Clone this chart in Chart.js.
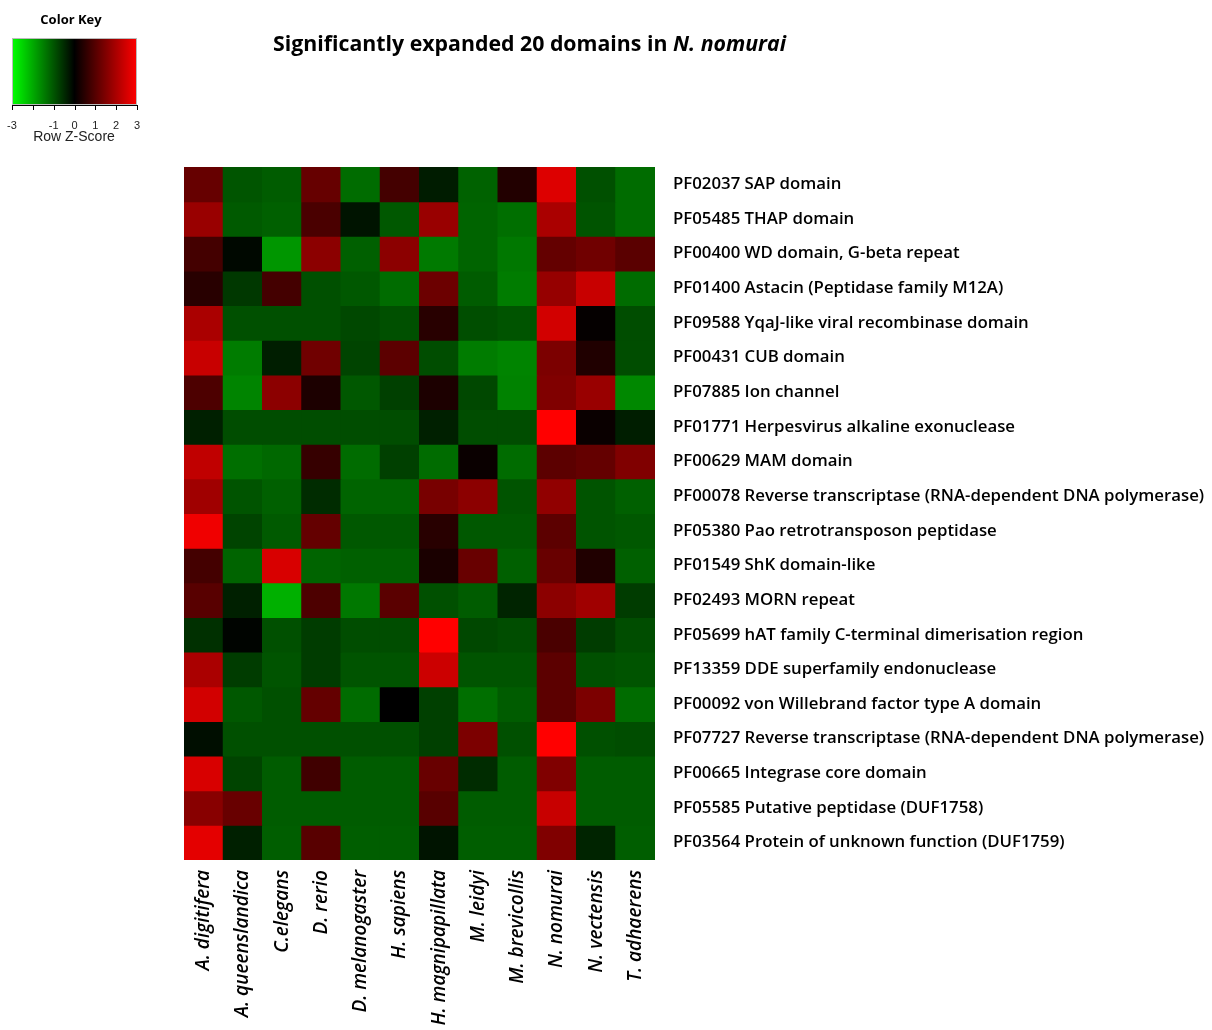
<!DOCTYPE html>
<html>
<head>
<meta charset="utf-8">
<script src="https://cdn.jsdelivr.net/npm/chart.js@4"></script>
<style>
  html,body{margin:0;padding:0;background:#fff;}
  #wrap{position:relative;width:1212px;height:1030px;}
</style>
</head>
<body>
<div id="wrap"><canvas id="heat"></canvas></div>
<script>
/* ---- data ---- */
const species = ['A. digitifera','A. queenslandica','C.elegans','D. rerio','D. melanogaster','H. sapiens',
                 'H. magnipapillata','M. leidyi','M. brevicollis','N. nomurai','N. vectensis','T. adhaerens'];

const domains = [
  'PF02037 SAP domain',
  'PF05485 THAP domain',
  'PF00400 WD domain, G-beta repeat',
  'PF01400 Astacin (Peptidase family M12A)',
  'PF09588 YqaJ-like viral recombinase domain',
  'PF00431 CUB domain',
  'PF07885 Ion channel',
  'PF01771 Herpesvirus alkaline exonuclease',
  'PF00629 MAM domain',
  'PF00078 Reverse transcriptase (RNA-dependent DNA polymerase)',
  'PF05380 Pao retrotransposon peptidase',
  'PF01549 ShK domain-like',
  'PF02493 MORN repeat',
  'PF05699 hAT family C-terminal dimerisation region',
  'PF13359 DDE superfamily endonuclease',
  'PF00092 von Willebrand factor type A domain',
  'PF07727 Reverse transcriptase (RNA-dependent DNA polymerase)',
  'PF00665 Integrase core domain',
  'PF05585 Putative peptidase (DUF1758)',
  'PF03564 Protein of unknown function (DUF1759)'
];

/* row z-scores, one row per domain, columns in species order */
const zScores = [
  [ 1.20,-1.00,-1.08, 1.20,-1.27, 0.80,-0.33,-1.15, 0.40, 2.60,-0.94,-1.27],
  [ 1.80,-1.06,-1.13, 0.87,-0.24,-1.04, 1.80,-1.18,-1.30, 2.00,-0.99,-1.27],
  [ 0.80,-0.09,-1.76, 1.65,-1.13, 1.65,-1.44,-1.18,-1.41, 1.18, 1.32, 1.06],
  [ 0.47,-0.66, 0.80,-0.94,-1.04,-1.27, 1.27,-1.08,-1.46, 1.76, 2.35,-1.27],
  [ 2.00,-0.94,-0.94,-0.94,-0.85,-0.94, 0.47,-0.92,-0.99, 2.47, 0.06,-0.90],
  [ 2.35,-1.46,-0.35, 1.32,-0.80, 1.08,-0.90,-1.46,-1.55, 1.46, 0.38,-0.90],
  [ 0.90,-1.55, 1.65, 0.33,-1.04,-0.75, 0.33,-0.85,-1.53, 1.50, 1.80,-1.60],
  [-0.38,-0.90,-0.90,-0.90,-0.90,-0.90,-0.38,-0.90,-0.90, 3.00, 0.12,-0.35],
  [ 2.26,-1.30,-1.22, 0.64,-1.27,-0.75,-1.27, 0.12,-1.27, 1.08, 1.18, 1.50],
  [ 1.88,-0.99,-1.13,-0.52,-1.18,-1.18, 1.41, 1.65,-0.99, 1.70,-0.99,-1.13],
  [ 2.82,-0.80,-1.06, 1.18,-1.04,-1.04, 0.47,-1.04,-1.04, 1.08,-0.99,-1.04],
  [ 0.80,-1.18, 2.54,-1.18,-1.13,-1.13, 0.31, 1.22,-1.13, 1.22, 0.38,-1.13],
  [ 1.04,-0.38,-2.07, 0.90,-1.41, 1.06,-0.94,-1.08,-0.42, 1.65, 1.88,-0.71],
  [-0.56,-0.05,-0.94,-0.71,-0.90,-0.90, 3.00,-0.85,-0.90, 0.87,-0.71,-0.90],
  [ 2.00,-0.71,-0.99,-0.71,-0.99,-0.99, 2.40,-0.99,-0.99, 1.08,-0.94,-0.99],
  [ 2.47,-1.04,-0.94, 1.18,-1.27, 0.00,-0.75,-1.30,-1.08, 1.08, 1.46,-1.27],
  [-0.16,-0.94,-0.94,-0.94,-0.94,-0.94,-0.75, 1.46,-0.94, 3.00,-0.94,-0.90],
  [ 2.54,-0.80,-1.08, 0.75,-1.08,-1.08, 1.22,-0.52,-1.08, 1.50,-1.08,-1.08],
  [ 1.60, 1.22,-1.08,-1.08,-1.08,-1.08, 1.04,-1.08,-1.08, 2.35,-1.08,-1.08],
  [ 2.68,-0.38,-1.10, 1.04,-1.10,-1.10,-0.24,-1.10,-1.10, 1.50,-0.42,-1.10]
];

/* colour key */
const keyTicks   = [-3,-2,-1,0,1,2,3];
const keyLabels  = ['-3','-1','0','1','2','3'];
const keyLabelAt = [-3,-1,0,1,2,3];

/* ---- colours ---- */
function zColor(z){
  const v = Math.round(Math.min(1, Math.abs(z)/3)*255);
  return z < 0 ? `rgb(0,${v},0)` : `rgb(${v},0,0)`;
}

/* ---- title + colour key drawn on the canvas ---- */
const extras = {
  id:'extras',
  afterDraw(chart){
    const c = chart.ctx;
    c.save();
    // title
    c.fillStyle = '#000';
    c.textBaseline = 'alphabetic';
    c.font = 'bold 21.3px "Open Sans"';
    const t1 = 'Significantly expanded 20 domains in ';
    c.textAlign = 'left';
    c.fillText(t1, 273, 51);
    const w1 = c.measureText(t1).width;
    c.font = 'italic bold 21.3px "Open Sans"';
    c.fillText('N. nomurai', 273 + w1, 51);

    // key
    const x0 = 12, x1 = 137, y0 = 38, y1 = 105;
    const g = c.createLinearGradient(x0,0,x1,0);
    g.addColorStop(0,'rgb(0,255,0)');
    g.addColorStop(0.5,'rgb(0,0,0)');
    g.addColorStop(1,'rgb(255,0,0)');
    c.fillStyle = g;
    c.fillRect(x0,y0,x1-x0,y1-y0);
    c.strokeStyle = '#bbb';
    c.lineWidth = 1;
    c.strokeRect(x0+0.5,y0+0.5,x1-x0-1,y1-y0-1);
    const px = z => x0 + (z+3)/6*(x1-x0);
    c.strokeStyle = '#000';
    c.beginPath();
    c.moveTo(x0,y1+0.5); c.lineTo(x1,y1+0.5);
    keyTicks.forEach(z=>{ c.moveTo(Math.round(px(z))+0.5,y1); c.lineTo(Math.round(px(z))+0.5,y1+5); });
    c.stroke();
    c.fillStyle = '#222';
    c.font = '11px "Liberation Sans"';
    c.textAlign = 'center';
    keyLabels.forEach((s,i)=> c.fillText(s, px(keyLabelAt[i]), 129));
    c.font = '14px "Liberation Sans"';
    c.fillText('Row Z-Score', 74, 141);
    c.fillStyle = '#000';
    c.font = 'bold 13px "Open Sans"';
    c.fillText('Color Key', 71, 24);
    c.restore();
  }
};

/* ---- chart ---- */
const datasets = domains.map((d,i)=>({
  label:d,
  data:species.map(()=>1),
  backgroundColor:zScores[i].map(zColor),
  borderWidth:0,
  barPercentage:1,
  categoryPercentage:1,
  inflateAmount:0.5,
  stack:'s'
}));

new Chart(document.getElementById('heat'),{
  type:'bar',
  data:{labels:species,datasets},
  plugins:[extras],
  options:{
    responsive:true,
    maintainAspectRatio:false,
    animation:false,
    layout:{padding:{left:184,top:167,right:0,bottom:0}},
    plugins:{legend:{display:false},tooltip:{enabled:false},title:{display:false}},
    scales:{
      x:{
        stacked:true,
        grid:{display:false},
        border:{display:false},
        ticks:{minRotation:90,maxRotation:90,autoSkip:false,padding:2,color:'#000',
               font:{family:'"Open Sans"',size:19,style:'italic',weight:'600'}},
        afterFit:s=>{s.height=170;}
      },
      y:{stacked:true,min:0,max:20,reverse:true,display:false},
      y2:{
        type:'category',
        labels:domains,
        position:'right',
        offset:true,
        grid:{display:false},
        border:{display:false},
        ticks:{autoSkip:false,padding:10,color:'#000',
               font:{family:'"Open Sans"',size:16.8,weight:'600'}},
        afterFit:s=>{s.width=557;}
      }
    }
  }
});
</script>
</body>
</html>
